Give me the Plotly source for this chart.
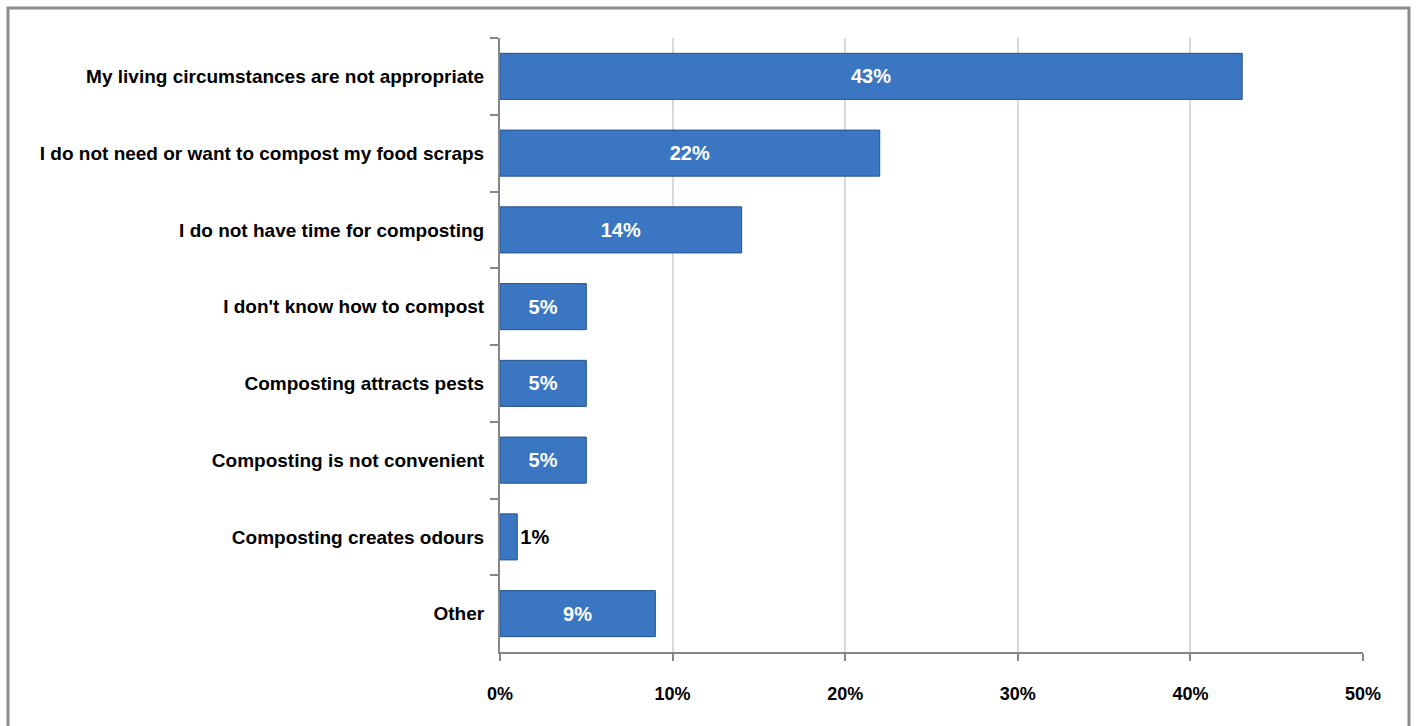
import plotly.graph_objects as go

categories = [
    "My living circumstances are not appropriate",
    "I do not need or want to compost my food scraps",
    "I do not have time for composting",
    "I don't know how to compost",
    "Composting attracts pests",
    "Composting is not convenient",
    "Composting creates odours",
    "Other",
]
values = [43, 22, 14, 5, 5, 5, 1, 9]
value_labels = ["43%", "22%", "14%", "5%", "5%", "5%", "1%", "9%"]
x_tick_vals = [0, 10, 20, 30, 40, 50]
x_tick_text = ["0%", "10%", "20%", "30%", "40%", "50%"]

text_pos = ["inside" if v >= 3 else "outside" for v in values]
text_col = ["white" if v >= 3 else "black" for v in values]

FONT = "Liberation Sans, Arial, sans-serif"

fig = go.Figure(
    go.Bar(
        y=categories,
        x=values,
        orientation="h",
        text=value_labels,
        textposition=text_pos,
        insidetextanchor="middle",
        textfont=dict(family=FONT, size=20, color=text_col, weight="bold"),
        marker=dict(color="#3A76C1", line=dict(color="#24528A", width=1)),
        width=0.6,
        cliponaxis=False,
    )
)

fig.update_layout(
    width=1416,
    height=726,
    margin=dict(l=500, r=53, t=38, b=74),
    paper_bgcolor="white",
    plot_bgcolor="white",
    showlegend=False,
    font=dict(family=FONT, color="black"),
    xaxis=dict(
        range=[0, 50],
        tickvals=x_tick_vals,
        ticktext=x_tick_text,
        tickfont=dict(size=18, family=FONT, weight="bold"),
        showgrid=True,
        gridcolor="#D9D9D9",
        gridwidth=2,
        showline=True,
        linecolor="#868686",
        linewidth=2,
        ticks="outside",
        ticklen=7,
        tickcolor="#868686",
        tickwidth=2,
        ticklabelstandoff=17,
        zeroline=False,
        fixedrange=True,
    ),
    yaxis=dict(
        autorange="reversed",
        tickfont=dict(size=19, family=FONT, weight="bold"),
        showline=True,
        linecolor="#868686",
        linewidth=2,
        ticks="outside",
        tickson="boundaries",
        ticklen=8,
        tickcolor="#868686",
        tickwidth=2,
        ticklabelstandoff=10,
        showgrid=False,
        fixedrange=True,
    ),
    shapes=[
        dict(
            type="rect",
            xref="paper",
            yref="paper",
            x0=(8 - 500) / 863,
            x1=(1409 - 500) / 863,
            y0=-0.2,
            y1=1 + 30 / 614,
            line=dict(color="#8C8C8C", width=3),
            fillcolor="rgba(0,0,0,0)",
            layer="below",
        )
    ],
)

fig.write_html("out.html")
